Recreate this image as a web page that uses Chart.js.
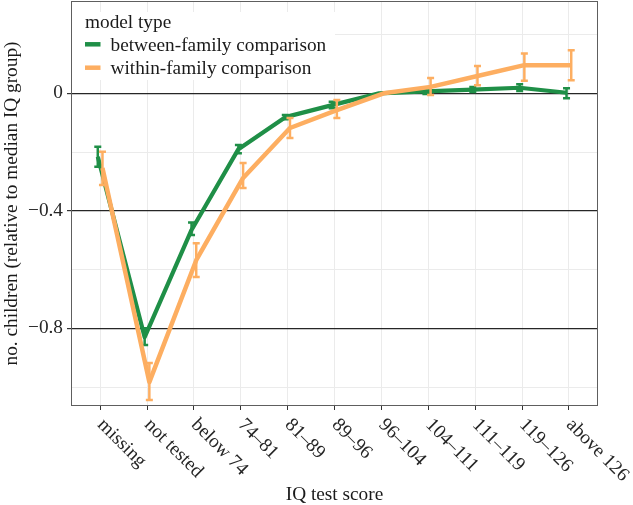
<!DOCTYPE html>
<html>
<head>
<meta charset="utf-8">
<script src="https://cdn.jsdelivr.net/npm/chart.js@4/dist/chart.umd.min.js"></script>
<style>
  html, body { margin: 0; padding: 0; background: #fff; }
</style>
</head>
<body>
<canvas id="chart" width="633" height="505"></canvas>
<script>
// data
const categories = ['missing', 'not tested', 'below 74', '74–81', '81–89', '89–96', '96–104', '104–111', '111–119', '119–126', 'above 126'];
const seriesNames = ['between-family comparison', 'within-family comparison'];

const between     = [-0.216, -0.830, -0.465, -0.190, -0.081, -0.040, 0, 0.007, 0.013, 0.019, 0.002];
const betweenLow  = [-0.250, -0.857, -0.482, -0.204, -0.088, -0.051, 0, -0.002, 0.005, 0.008, -0.017];
const betweenHigh = [-0.182, -0.800, -0.440, -0.176, -0.074, -0.029, 0, 0.017, 0.022, 0.031, 0.017];

const within     = [-0.254, -0.983, -0.568, -0.288, -0.118, -0.057, 0, 0.022, 0.059, 0.096, 0.096];
const withinLow  = [-0.312, -1.044, -0.625, -0.322, -0.152, -0.084, 0, -0.006, 0.028, 0.043, 0.045];
const withinHigh = [-0.199, -0.918, -0.510, -0.237, -0.084, -0.023, 0, 0.052, 0.093, 0.136, 0.147];

const yGridValues = [-1.0, -0.8, -0.6, -0.4, -0.2, 0, 0.2];
const yMajorValues = [-0.8, -0.4, 0];
const yMajorLabels = ['−0.8', '−0.4', '0'];

const GREEN = '#1f8f47';
const ORANGE = '#fdae61';
const SERIF = '"Liberation Serif", "DejaVu Serif", serif';
const FS = 19.3;
const DODGE = 0.05;

const lows = [betweenLow, withinLow];
const highs = [betweenHigh, withinHigh];
const colors = [GREEN, ORANGE];
const dodges = [-DODGE, DODGE];

const isMajor = (v) => yMajorValues.some(m => Math.abs(m - v) < 1e-6);

const toPoints = (arr, off) => arr.map((v, i) => ({ x: i + off, y: v }));

//* errorbars, border, legend and slanted x labels
const extras = {
    id: 'extras',
    beforeDatasetsDraw(chart) {
        const ctx = chart.ctx, a = chart.chartArea;
        ctx.save();
        ctx.fillStyle = '#ffffff';
        ctx.fillRect(a.left, a.top + 10, 263, 68);
        ctx.fillStyle = '#1a1a1a';
        ctx.font = FS + 'px ' + SERIF;
        ctx.textAlign = 'left';
        ctx.textBaseline = 'alphabetic';
        ctx.fillText('model type', a.left + 13, a.top + 26);
        const rows = [a.top + 42.3, a.top + 65.7];
        seriesNames.forEach((name, k) => {
            ctx.strokeStyle = colors[k];
            ctx.lineWidth = 4.5;
            ctx.lineCap = 'butt';
            ctx.beginPath();
            ctx.moveTo(a.left + 13, rows[k]);
            ctx.lineTo(a.left + 28.5, rows[k]);
            ctx.stroke();
            ctx.fillText(name, a.left + 38.5, rows[k] + 6.2);
        });
        ctx.restore();
    },
    afterDatasetDraw(chart, args) {
        const k = args.index;
        const xs = chart.scales.x, ys = chart.scales.y, ctx = chart.ctx;
        ctx.save();
        ctx.strokeStyle = colors[k];
        ctx.lineWidth = 2.5;
        ctx.lineCap = 'butt';
        lows[k].forEach((lo, i) => {
            const hi = highs[k][i];
            if (lo === hi) return;
            const x = xs.getPixelForValue(i + dodges[k]);
            const y1 = ys.getPixelForValue(lo), y2 = ys.getPixelForValue(hi);
            ctx.beginPath();
            ctx.moveTo(x, y1); ctx.lineTo(x, y2);
            ctx.moveTo(x - 3.5, y1); ctx.lineTo(x + 3.5, y1);
            ctx.moveTo(x - 3.5, y2); ctx.lineTo(x + 3.5, y2);
            ctx.stroke();
        });
        ctx.restore();
    },
    afterDraw(chart) {
        const ctx = chart.ctx, a = chart.chartArea, xs = chart.scales.x;
        ctx.save();
        ctx.strokeStyle = '#5e5e5e';
        ctx.lineWidth = 1;
        ctx.strokeRect(Math.round(a.left) - 0.5, Math.round(a.top) - 0.5,
            Math.round(a.right - a.left) + 1, Math.round(a.bottom - a.top) + 1);
        ctx.fillStyle = '#262626';
        ctx.font = FS + 'px ' + SERIF;
        ctx.textAlign = 'left';
        ctx.textBaseline = 'middle';
        categories.forEach((c, i) => {
            const px = xs.getPixelForValue(i);
            ctx.save();
            ctx.translate(px + 0.3, a.bottom + 17);
            ctx.rotate(Math.PI / 4);
            ctx.fillText(c, 0, 0);
            ctx.restore();
        });
        ctx.restore();
    }
};

new Chart(document.getElementById('chart'), {
    type: 'line',
    data: {
        datasets: [{
            label: seriesNames[0],
            data: toPoints(between, -DODGE),
            borderColor: GREEN,
            borderWidth: 4.2,
            order: 1
        }, {
            label: seriesNames[1],
            data: toPoints(within, DODGE),
            borderColor: ORANGE,
            borderWidth: 4.5,
            order: 0
        }]
    },
    options: {
        responsive: false,
        animation: false,
        events: [],
        layout: { padding: { top: 2, right: 36, left: 0, bottom: 0 } },
        elements: {
            point: { radius: 0, hoverRadius: 0 },
            line: { tension: 0, borderJoinStyle: 'round', borderCapStyle: 'butt' }
        },
        plugins: { legend: { display: false }, tooltip: { enabled: false } },
        scales: {
            x: {
                type: 'linear',
                min: -0.6,
                max: 10.6,
                afterBuildTicks: s => { s.ticks = categories.map((c, i) => ({ value: i })); },
                afterFit: s => { s.height = 100; s.paddingLeft = 0; s.paddingRight = 0; },
                ticks: { display: false },
                grid: { color: '#ebebeb', lineWidth: 1, tickColor: '#333333', tickLength: 5 },
                border: { display: false },
                title: {
                    display: true,
                    text: 'IQ test score',
                    color: '#1a1a1a',
                    font: { family: SERIF, size: FS },
                    padding: { top: 0, bottom: -2 }
                }
            },
            y: {
                min: -1.061,
                max: 0.311,
                afterBuildTicks: s => { s.ticks = yGridValues.map(v => ({ value: v })); },
                afterFit: s => { s.width = 72; s.paddingTop = 0; s.paddingBottom = 0; },
                ticks: {
                    autoSkip: false,
                    padding: 4,
                    color: '#262626',
                    font: { family: SERIF, size: FS },
                    callback: v => {
                        const j = yMajorValues.findIndex(m => Math.abs(m - v) < 1e-6);
                        return j >= 0 ? yMajorLabels[j] : '';
                    }
                },
                grid: {
                    color: c => isMajor(c.tick.value) ? '#262626' : '#ebebeb',
                    lineWidth: c => isMajor(c.tick.value) ? 1.2 : 1,
                    tickColor: c => isMajor(c.tick.value) ? '#333333' : 'rgba(0,0,0,0)',
                    tickLength: 5
                },
                border: { display: false },
                title: {
                    display: true,
                    text: 'no. children (relative to median IQ group)',
                    color: '#1a1a1a',
                    font: { family: SERIF, size: FS },
                    padding: { top: 0, bottom: 0 }
                }
            }
        }
    },
    plugins: [extras]
});
</script>
</body>
</html>
